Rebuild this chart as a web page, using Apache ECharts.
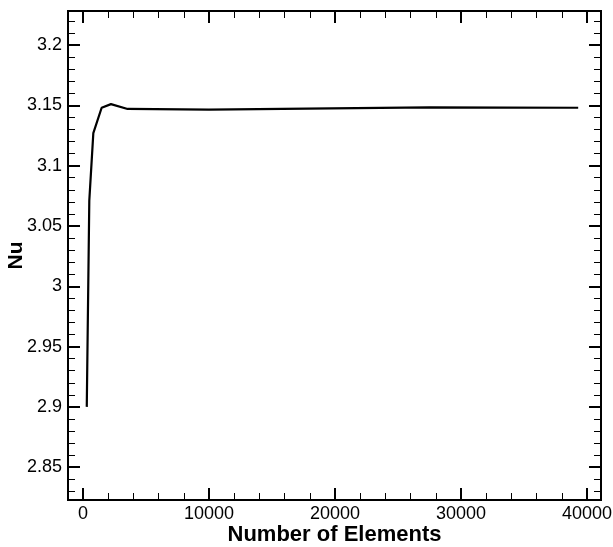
<!DOCTYPE html>
<html>
<head>
<meta charset="utf-8">
<script src="https://cdn.jsdelivr.net/npm/echarts@6/dist/echarts.min.js"></script>
<style>
  html, body { margin: 0; padding: 0; background: #fff; }
  #chart { width: 613px; height: 547px; }
</style>
</head>
<body>
<div id="chart"></div>
<script>
// 网格无关性：Nu 随单元数变化
const elements = [300, 500, 820, 1480, 2220, 3540, 10000, 27500, 39300];
const nu       = [2.900, 3.071, 3.127, 3.148, 3.151, 3.147, 3.1465, 3.1483, 3.148];

// 刻度位置
const xMajor = [0, 10000, 20000, 30000, 40000];
const xMinor = [2000, 4000, 6000, 8000, 12000, 14000, 16000, 18000,
                22000, 24000, 26000, 28000, 32000, 34000, 36000, 38000];
const yMajor = [2.85, 2.9, 2.95, 3, 3.05, 3.1, 3.15, 3.2];
const yMinor = [2.83, 2.84, 2.86, 2.87, 2.88, 2.89, 2.91, 2.92, 2.93, 2.94,
                2.96, 2.97, 2.98, 2.99, 3.01, 3.02, 3.03, 3.04, 3.06, 3.07,
                3.08, 3.09, 3.11, 3.12, 3.13, 3.14, 3.16, 3.17, 3.18, 3.19,
                3.21, 3.22];

const X_MIN = -1190, X_MAX = 41110;
const Y_MIN = 2.8228, Y_MAX = 3.2282;
const FONT = "'Liberation Sans', Arial, sans-serif";

function xAx(pos, ticks, len, w, withLabels) {
  return {
    type: 'value', position: pos, min: X_MIN, max: X_MAX,
    axisLine: { show: true, onZero: false, lineStyle: { color: '#000', width: 2 } },
    axisTick: { show: true, inside: true, length: len, customValues: ticks, lineStyle: { color: '#000', width: w } },
    axisLabel: withLabels
      ? { show: true, customValues: ticks, color: '#000', fontSize: 18, fontFamily: FONT, margin: 5,
          formatter: (v) => String(Math.round(v)) }
      : { show: false },
    splitLine: { show: false },
  };
}

function yAx(pos, ticks, len, w, withLabels) {
  return {
    type: 'value', position: pos, min: Y_MIN, max: Y_MAX,
    axisLine: { show: true, onZero: false, lineStyle: { color: '#000', width: 2 } },
    axisTick: { show: true, inside: true, length: len, customValues: ticks, lineStyle: { color: '#000', width: w } },
    axisLabel: withLabels
      ? { show: true, customValues: ticks, color: '#000', fontSize: 18, fontFamily: FONT, margin: 6,
          formatter: (v) => String(+v.toFixed(2)) }
      : { show: false },
    splitLine: { show: false },
  };
}

const xBottom = xAx('bottom', xMajor, 12, 2, true);
xBottom.name = 'Number of Elements';
xBottom.nameLocation = 'middle';
xBottom.nameGap = 24;
xBottom.nameMoveOverlap = false;
xBottom.nameTextStyle = { color: '#000', fontSize: 22, fontWeight: 'bold', fontFamily: FONT };

const yLeft = yAx('left', yMajor, 12, 2, true);
yLeft.name = 'Nu';
yLeft.nameLocation = 'middle';
yLeft.nameGap = 41;
yLeft.nameMoveOverlap = false;
yLeft.nameTextStyle = { color: '#000', fontSize: 21, fontWeight: 'bold', fontFamily: FONT };

const chart = echarts.init(document.getElementById('chart'));
chart.setOption({
  backgroundColor: '#fff',
  animation: false,
  grid: { left: 68, right: 12, top: 11, bottom: 47, containLabel: false, outerBoundsMode: 'none' },
  xAxis: [
    xBottom,
    xAx('bottom', xMinor, 7, 1, false),
    xAx('top', xMajor, 12, 2, false),
    xAx('top', xMinor, 7, 1, false),
  ],
  yAxis: [
    yLeft,
    yAx('left', yMinor, 7, 1, false),
    yAx('right', yMajor, 12, 2, false),
    yAx('right', yMinor, 7, 1, false),
  ],
  series: [{
    type: 'line',
    xAxisIndex: 0,
    yAxisIndex: 0,
    data: elements.map((e, i) => [e, nu[i]]),
    showSymbol: false,
    lineStyle: { color: '#000', width: 2.2 },
  }],
});
</script>
</body>
</html>
